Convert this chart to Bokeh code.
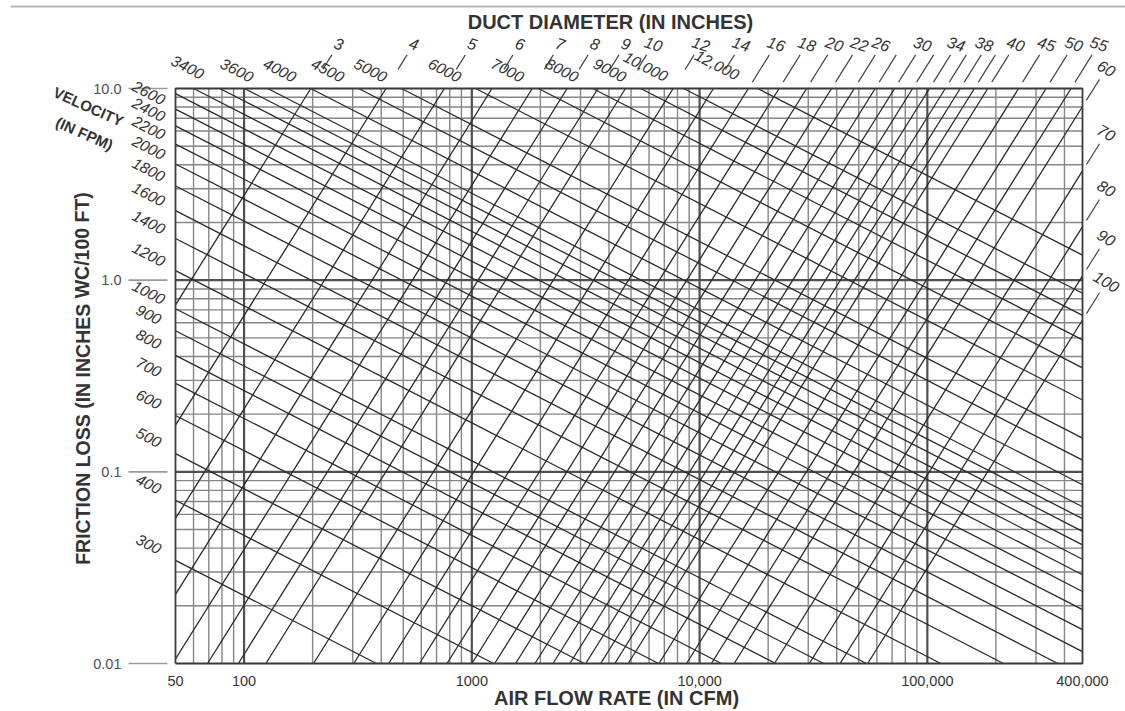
import math
from bokeh.plotting import figure
from bokeh.models import Range1d
from bokeh.core.properties import value
from bokeh.embed import file_html
from bokeh.resources import INLINE

# ---------------- data ----------------
# round-duct diameters (inches) and the label printed for each line ("" = unlabeled)
DUCT_DIAMETERS = [3, 4, 5, 6, 7, 8, 9, 10, 12, 14, 16, 18, 20, 22, 24, 26, 28, 30,
                  32, 34, 36, 38, 40, 45, 50, 55, 60, 70, 80, 90, 100]
DUCT_LABELS = ["3", "4", "5", "6", "7", "8", "9", "10", "12", "14", "16", "18", "20",
               "22", "", "26", "", "30", "", "34", "", "38", "40", "45", "50", "55",
               "60", "70", "80", "90", "100"]
# air flow (cfm) where each duct line meets 0.01 and 10.0 in. wc/100 ft
DUCT_CFM_AT_LOW = [5.18, 11.08, 19.98, 32.3, 48.6, 69.15, 94.4, 124.7, 201.8, 303.3,
                   431.7, 589.2, 778.4, 1001, 1260, 1557, 1894, 2272, 2695, 3163, 3678,
                   4243, 4859, 6633, 8762, 11270, 14183, 21315, 30332, 41404, 54694]
DUCT_CFM_AT_HIGH = [196.4, 420.1, 757.5, 1226, 1843, 2622, 3580, 4729, 7655, 11503,
                    16370, 22345, 29520, 37970, 47785, 59040, 71810, 86170, 102190,
                    119940, 139490, 160910, 184270, 251530, 332270, 427420, 537880,
                    808310, 1150200, 1570100, 2074200]
DUCT_FRICTION_ENDS = [0.01, 10.0]

# air velocities (fpm) and their printed labels ("" = unlabeled)
VELOCITIES = [300, 400, 500, 600, 700, 800, 900, 1000, 1200, 1400, 1600, 1800, 2000,
              2200, 2400, 2600, 2800, 3000, 3200, 3400, 3600, 4000, 4500, 5000, 6000,
              7000, 8000, 9000, 10000, 12000]
VELOCITY_LABELS = ["300", "400", "500", "600", "700", "800", "900", "1000", "1200",
                   "1400", "1600", "1800", "2000", "2200", "2400", "2600", "", "", "",
                   "3400", "3600", "4000", "4500", "5000", "6000", "7000", "8000",
                   "9000", "10,000", "12,000"]
# friction loss (in. wc/100 ft) of each velocity line at 10 cfm and at 1,000,000 cfm
VEL_CFM_ENDS = [10, 1000000]
VEL_FRICTION_AT_LOW = [0.09219, 0.18979, 0.33228, 0.52513, 0.77321, 1.0810, 1.4529,
                       1.8928, 2.9912, 4.4045, 6.1580, 8.2761, 10.782, 13.695, 17.038,
                       20.829, 25.088, 29.831, 35.077, 40.842, 47.143, 61.415, 82.539,
                       107.53, 169.92, 250.21, 349.83, 470.16, 612.49, 967.92]
VEL_FRICTION_AT_HIGH = [8.216e-5, 1.6914e-4, 2.9615e-4, 4.680e-4, 6.891e-4, 9.635e-4,
                        1.2949e-3, 1.6869e-3, 2.6659e-3, 3.9255e-3, 5.4883e-3, 7.376e-3,
                        9.609e-3, 0.012205, 0.015186, 0.018564, 0.022360, 0.026587,
                        0.031263, 0.036401, 0.042015, 0.054735, 0.073563, 0.095831,
                        0.15145, 0.22299, 0.31179, 0.41903, 0.54588, 0.86266]

# grid and axis ticks
GRID_CFM = [60, 70, 80, 90, 200, 300, 400, 500, 600, 700, 800, 900, 2000, 3000, 4000,
            5000, 6000, 7000, 8000, 9000, 20000, 30000, 40000, 50000, 60000, 70000,
            80000, 90000, 200000, 300000, 400000]
DECADE_CFM = [100, 1000, 10000, 100000]
GRID_FRICTION = [0.02, 0.03, 0.04, 0.05, 0.06, 0.07, 0.08, 0.09, 0.2, 0.3, 0.4, 0.5,
                 0.6, 0.7, 0.8, 0.9, 2, 3, 4, 5, 6, 7, 8, 9]
DECADE_FRICTION = [0.1, 1.0]
CFM_TICKS = [50, 100, 1000, 10000, 100000, 400000]
CFM_TICK_LABELS = ["50", "100", "1000", "10,000", "100,000", "400,000"]
FRICTION_TICKS = [0.01, 0.1, 1.0, 10.0]
FRICTION_TICK_LABELS = ["0.01", "0.1", "1.0", "10.0"]

# ---------------- layout ----------------
X_MIN, X_MAX = 50, 480000          # chart box, cfm
Y_MIN, Y_MAX = 0.01, 10.0          # chart box, in. wc / 100 ft
W, H = 1125, 711
BOX_L, BOX_R, BOX_T, BOX_B = 175, 1082, 88, 663
LX_MIN, LX_MAX = math.log10(X_MIN), math.log10(X_MAX)
LY_MIN, LY_MAX = math.log10(Y_MIN), math.log10(Y_MAX)
PX_X = (BOX_R - BOX_L) / (LX_MAX - LX_MIN)
PX_Y = (BOX_B - BOX_T) / (LY_MAX - LY_MIN)
LINE_COLOR = "#2a2a2a"
TEXT_COLOR = "#353535"
FONT = "Liberation Sans"


def X(px):
    return 10 ** (LX_MIN + (px - BOX_L) / PX_X)


def Y(py):
    return 10 ** (LY_MAX + (BOX_T - py) / PX_Y)


p = figure(width=W, height=H, x_axis_type="log", y_axis_type="log",
           x_range=Range1d(X(0), X(W)), y_range=Range1d(Y(H), Y(0)),
           x_axis_location=None, y_axis_location=None,
           min_border=0, output_backend="svg", toolbar_location=None)
p.outline_line_color = None
p.xgrid.grid_line_color = None
p.ygrid.grid_line_color = None


def clip(x0, y0, x1, y1):
    """Liang-Barsky clip of a log-space segment to the chart box."""
    dx, dy = x1 - x0, y1 - y0
    t0, t1 = 0.0, 1.0
    for pp, q in ((-dx, x0 - LX_MIN), (dx, LX_MAX - x0), (-dy, y0 - LY_MIN), (dy, LY_MAX - y0)):
        if pp == 0:
            if q < 0:
                return None
            continue
        r = q / pp
        if pp < 0:
            t0 = max(t0, r)
        else:
            t1 = min(t1, r)
    if t0 > t1:
        return None
    return (10 ** (x0 + t0 * dx), 10 ** (y0 + t0 * dy), 10 ** (x0 + t1 * dx), 10 ** (y0 + t1 * dy))


# ---- grid ----
p.segment(x0=GRID_CFM, y0=Y_MIN, x1=GRID_CFM, y1=Y_MAX, line_color="#868686", line_width=1.4)
p.segment(x0=X_MIN, y0=GRID_FRICTION, x1=X_MAX, y1=GRID_FRICTION, line_color="#868686", line_width=1.4)
p.segment(x0=DECADE_CFM, y0=Y_MIN, x1=DECADE_CFM, y1=Y_MAX, line_color="#505050", line_width=2.2)
p.segment(x0=X_MIN, y0=DECADE_FRICTION, x1=X_MAX, y1=DECADE_FRICTION, line_color="#505050", line_width=2.2)

# ---- duct and velocity lines (clipped to the box) ----
dxs, dys = [], []
for qa, qb in zip(DUCT_CFM_AT_LOW, DUCT_CFM_AT_HIGH):
    c = clip(math.log10(qa), math.log10(DUCT_FRICTION_ENDS[0]),
             math.log10(qb), math.log10(DUCT_FRICTION_ENDS[1]))
    if c:
        dxs.append([c[0], c[2]])
        dys.append([c[1], c[3]])
p.multi_line(xs=dxs, ys=dys, line_color=LINE_COLOR, line_width=1.3)

vxs, vys = [], []
for fa, fb in zip(VEL_FRICTION_AT_LOW, VEL_FRICTION_AT_HIGH):
    c = clip(math.log10(VEL_CFM_ENDS[0]), math.log10(fa),
             math.log10(VEL_CFM_ENDS[1]), math.log10(fb))
    if c:
        vxs.append([c[0], c[2]])
        vys.append([c[1], c[3]])
p.multi_line(xs=vxs, ys=vys, line_color=LINE_COLOR, line_width=1.3)

# ---- chart box ----
p.line(x=[X_MIN, X_MAX, X_MAX, X_MIN, X_MIN], y=[Y_MIN, Y_MIN, Y_MAX, Y_MAX, Y_MIN],
       line_color="#3a3a3a", line_width=1.8)

# ---- friction axis: tick dashes and labels ----
p.segment(x0=X(128), y0=FRICTION_TICKS, x1=X(167), y1=FRICTION_TICKS,
          line_color="#9a9a9a", line_width=1.6)
p.text(x=[X(121)] * len(FRICTION_TICKS), y=FRICTION_TICKS, text=FRICTION_TICK_LABELS,
       text_align="right", text_baseline="middle", text_font=value(FONT),
       text_font_size=value("14.5px"), text_color="#505050")

# ---- air flow axis labels ----
CFM_LABEL_NUDGE = {"400,000": 18}
p.text(x=[t * 10 ** (CFM_LABEL_NUDGE.get(l, 0) / PX_X) for t, l in zip(CFM_TICKS, CFM_TICK_LABELS)],
       y=[Y(680)] * len(CFM_TICKS), text=CFM_TICK_LABELS,
       text_align="center", text_baseline="middle", text_font=value(FONT),
       text_font_size=value("14.5px"), text_color=TEXT_COLOR)

# ---- duct diameter leaders and labels ----
DIAM_NUDGE = {"26": -22, "30": -18, "34": -17, "38": -18}
lead_x0, lead_y0, lead_x1, lead_y1 = [], [], [], []
lab_x, lab_y, lab_t, lab_a = [], [], [], []
for d, lab, qa, qb in zip(DUCT_DIAMETERS, DUCT_LABELS, DUCT_CFM_AT_LOW, DUCT_CFM_AT_HIGH):
    x0, y0 = math.log10(qa), math.log10(DUCT_FRICTION_ENDS[0])
    x1, y1 = math.log10(qb), math.log10(DUCT_FRICTION_ENDS[1])
    m = (y1 - y0) / (x1 - x0)
    if x1 <= LX_MAX:
        ex, ey, top = x1, y1, True
    else:
        ex, ey, top = LX_MAX, y0 + m * (LX_MAX - x0), False

    def along(dx):
        return 10 ** (ex + dx / PX_X), 10 ** (ey + m * dx / PX_X)

    ax, ay = along(12 if (top and d <= 14) else 4)
    bx, by = along(21 if top else 17)
    lead_x0.append(ax); lead_y0.append(ay); lead_x1.append(bx); lead_y1.append(by)
    if lab:
        lx, ly = along(28 if top else 24)
        lab_x.append(lx * 10 ** (DIAM_NUDGE.get(lab, 0) / PX_X))
        lab_y.append(ly)
        lab_t.append(lab)
        lab_a.append(math.radians(-18 if top else -30))
p.segment(x0=lead_x0, y0=lead_y0, x1=lead_x1, y1=lead_y1, line_color="#464646", line_width=1.2)
p.text(x=lab_x, y=lab_y, text=lab_t, angle=lab_a, text_align="center", text_baseline="middle",
       text_font=value(FONT), text_font_size=value("16px"), text_font_style=value("italic"),
       text_color=TEXT_COLOR)

# ---- velocity labels ----
VEL_SHIFT = {"10,000": -38, "12,000": -41}
VEL_NUDGE = {"3400": (-26, 3)}       # extra screen nudge (px right, px up)
vl_x, vl_y, vl_t, vl_a = [], [], [], []
for v, lab, fa, fb in zip(VELOCITIES, VELOCITY_LABELS, VEL_FRICTION_AT_LOW, VEL_FRICTION_AT_HIGH):
    if not lab:
        continue
    x0, y0 = math.log10(VEL_CFM_ENDS[0]), math.log10(fa)
    x1, y1 = math.log10(VEL_CFM_ENDS[1]), math.log10(fb)
    m = (y1 - y0) / (x1 - x0)
    yl = y0 + m * (LX_MIN - x0)
    if yl <= LY_MAX:
        ex, ey, dx = LX_MIN, yl, -27
    else:
        ex, ey, dx = x0 + (LY_MAX - y0) / m, LY_MAX, VEL_SHIFT.get(lab, -31)
    nx, ny = VEL_NUDGE.get(lab, (0, 0))
    vl_x.append(10 ** (ex + (dx + nx) / PX_X))
    vl_y.append(10 ** (ey + m * dx / PX_X + (2 + ny) / PX_Y))
    vl_t.append(lab)
    vl_a.append(math.atan(m * PX_Y / PX_X))
p.text(x=vl_x, y=vl_y, text=vl_t, angle=vl_a, text_align="center", text_baseline="middle",
       text_font=value(FONT), text_font_size=value("15.5px"), text_font_style=value("italic"),
       text_color=TEXT_COLOR)

# ---- titles ----
TITLES = ["DUCT DIAMETER (IN INCHES)", "AIR FLOW RATE (IN CFM)",
          "FRICTION LOSS (IN INCHES WC/100 FT)", "VELOCITY", "(IN FPM)"]
T_PX = [(610, 21), (616, 697), (82, 378), (88, 106), (84, 133)]
T_ANG = [0.0, 0.0, math.pi / 2, math.radians(-24), math.radians(-24)]
T_SIZE = ["20px", "20px", "19.5px", "15px", "15px"]
p.text(x=[X(a) for a, b in T_PX], y=[Y(b) for a, b in T_PX], text=TITLES, angle=T_ANG,
       text_font_size=T_SIZE, text_align="center", text_baseline="middle",
       text_font=value(FONT), text_font_style=value("bold"), text_color="#333333")

# ---- scanned page border line along the top ----
p.segment(x0=[X(10)], y0=[Y(6)], x1=[X(W)], y1=[Y(6)], line_color="#b8b8b8", line_width=2)

open("out.html", "w").write(file_html(p, INLINE))
